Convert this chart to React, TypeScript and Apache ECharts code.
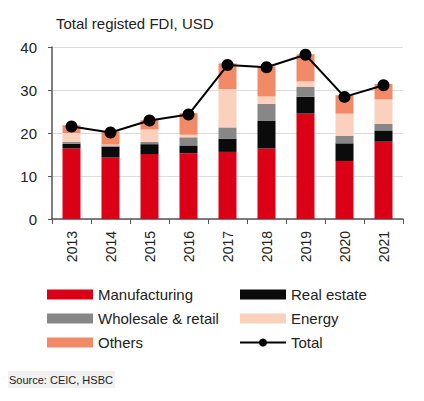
import React, { useEffect, useRef } from "react";
import * as echarts from "echarts";

const years = ["2013", "2014", "2015", "2016", "2017", "2018", "2019", "2020", "2021"];
const manufacturing = [16.4, 14.3, 15.1, 15.3, 15.6, 16.4, 24.5, 13.5, 18.0];
const realEstate = [1.1, 2.5, 2.3, 1.8, 3.1, 6.5, 3.9, 4.1, 2.6];
const wholesale = [0.4, 0.3, 0.5, 1.9, 2.6, 3.9, 2.3, 1.7, 1.5];
const energy = [2.1, 0.2, 2.9, 0.6, 8.9, 1.7, 1.3, 5.2, 5.7];
const others = [1.8, 3.1, 2.2, 5.0, 6.0, 7.0, 6.3, 4.3, 3.6];
const total = [21.5, 20.1, 22.9, 24.3, 35.8, 35.3, 38.2, 28.4, 31.1];

const FONT = "'Liberation Sans', Arial, sans-serif";

export default function App() {
  const ref = useRef<HTMLDivElement>(null);
  useEffect(() => {
    if (!ref.current) return;
    const chart = echarts.init(ref.current, undefined, { renderer: "svg" });
    const barSeries = (name: string, data: number[], color: string) => ({
      name,
      type: "bar",
      stack: "fdi",
      barWidth: 18,
      data,
      itemStyle: { color },
      emphasis: { disabled: true },
    });
    chart.setOption({
      animation: false,
      textStyle: { fontFamily: FONT },
      title: [
        {
          text: "Total registed FDI, USD",
          left: 56,
          top: 16,
          padding: 0,
          textStyle: { fontSize: 15, fontWeight: "normal", color: "#222", fontFamily: FONT },
        },
        {
          text: "Source: CEIC, HSBC",
          left: 8,
          top: 371,
          padding: [3, 2, 3, 1],
          backgroundColor: "#f1f1f1",
          textStyle: { fontSize: 11, fontWeight: "normal", color: "#222", fontFamily: FONT },
        },
      ],
      grid: { left: 52, right: 21, top: 47, bottom: 182 },
      legend: [
        {
          orient: "vertical",
          left: 47,
          top: 287,
          padding: 0,
          itemWidth: 46,
          itemHeight: 10,
          itemGap: 9,
          icon: "rect",
          textStyle: { fontSize: 15, color: "#222", fontFamily: FONT },
          data: ["Manufacturing", "Wholesale & retail", "Others"],
        },
        {
          orient: "vertical",
          left: 239,
          top: 287,
          padding: 0,
          itemWidth: 46,
          itemHeight: 10,
          itemGap: 9,
          textStyle: { fontSize: 15, color: "#222", fontFamily: FONT },
          data: [
            { name: "Real estate", icon: "rect" },
            { name: "Energy", icon: "rect" },
            { name: "Total" },
          ],
        },
      ],
      xAxis: {
        type: "category",
        data: years,
        axisLine: { lineStyle: { color: "#555", width: 1.5 } },
        axisTick: { show: true, length: 5, lineStyle: { color: "#555" } },
        axisLabel: { rotate: 90, fontSize: 14, color: "#222", margin: 12, fontFamily: FONT },
      },
      yAxis: {
        type: "value",
        min: 0,
        max: 40,
        interval: 10,
        axisLine: { show: true, lineStyle: { color: "#555", width: 1.5 } },
        axisTick: { show: true, length: 4, lineStyle: { color: "#555" } },
        axisLabel: { fontSize: 15, color: "#222", margin: 15, fontFamily: FONT },
        splitLine: { lineStyle: { color: "#dcdcdc", width: 1 } },
      },
      series: [
        barSeries("Manufacturing", manufacturing, "#db0016"),
        barSeries("Real estate", realEstate, "#0b0b0b"),
        barSeries("Wholesale & retail", wholesale, "#878787"),
        barSeries("Energy", energy, "#fbd0bc"),
        barSeries("Others", others, "#f28a68"),
        {
          name: "Total",
          type: "line",
          data: total,
          symbol: "circle",
          symbolSize: 12,
          lineStyle: { color: "#000", width: 2 },
          itemStyle: { color: "#000" },
          emphasis: { disabled: true },
          z: 5,
        },
      ],
    });
    return () => chart.dispose();
  }, []);
  return (
    <div
      ref={ref}
      style={{ position: "fixed", left: 0, top: 0, width: 424, height: 401, background: "#fff" }}
    />
  );
}
